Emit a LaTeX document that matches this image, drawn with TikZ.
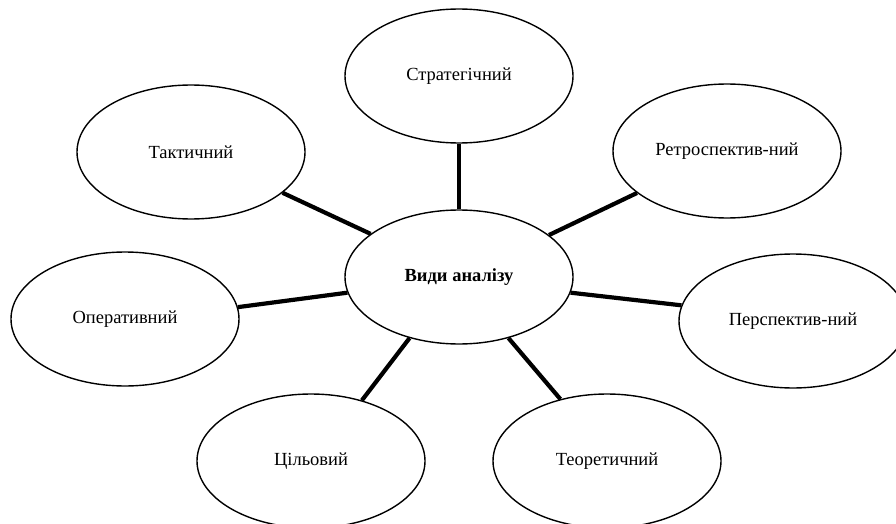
\documentclass[tikz,border=0pt]{standalone}
\usepackage{fontspec}
\setmainfont{Liberation Serif}
\usetikzlibrary{shapes.geometric}
\begin{document}
\begin{tikzpicture}[x=1pt,y=-1pt,
  kind/.style={ellipse, draw, line width=1.4pt, fill=white,
    minimum width=228pt, minimum height=134pt, inner sep=0pt,
    font=\fontsize{18.5}{22}\selectfont},
  link/.style={line width=4.2pt}]
\clip (0,0) rectangle (896,524);
\fill[white] (0,0) rectangle (896,524);

% hub and the seven kinds of analysis around it
\node[kind, font=\fontsize{18.5}{22}\selectfont\bfseries] (hub) at (459,277) {Види аналізу};
\node[kind] (strat) at (459,76)  {Стратегічний};
\node[kind] (takt)  at (191,152) {Тактичний};
\node[kind] (retro) at (727,151) {Ретроспектив-ний};
\node[kind] (oper)  at (125,319) {Оперативний};
\node[kind] (persp) at (793,321) {Перспектив-ний};
\node[kind] (tsil)  at (311,461) {Цільовий};
\node[kind] (teor)  at (607,461) {Теоретичний};

% spokes
\draw[link] (hub.90)    -- (strat.270);
\draw[link] (hub.154.7) -- (takt.-24.7);
\draw[link] (hub.25.3)  -- (retro.205.8);
\draw[link] (hub.188.1) -- (oper.6.1);
\draw[link] (hub.-8.1)  -- (persp.172.8);
\draw[link] (hub.231.7) -- (tsil.50.8);
\draw[link] (hub.309.4) -- (teor.127.6);
\end{tikzpicture}
\end{document}
